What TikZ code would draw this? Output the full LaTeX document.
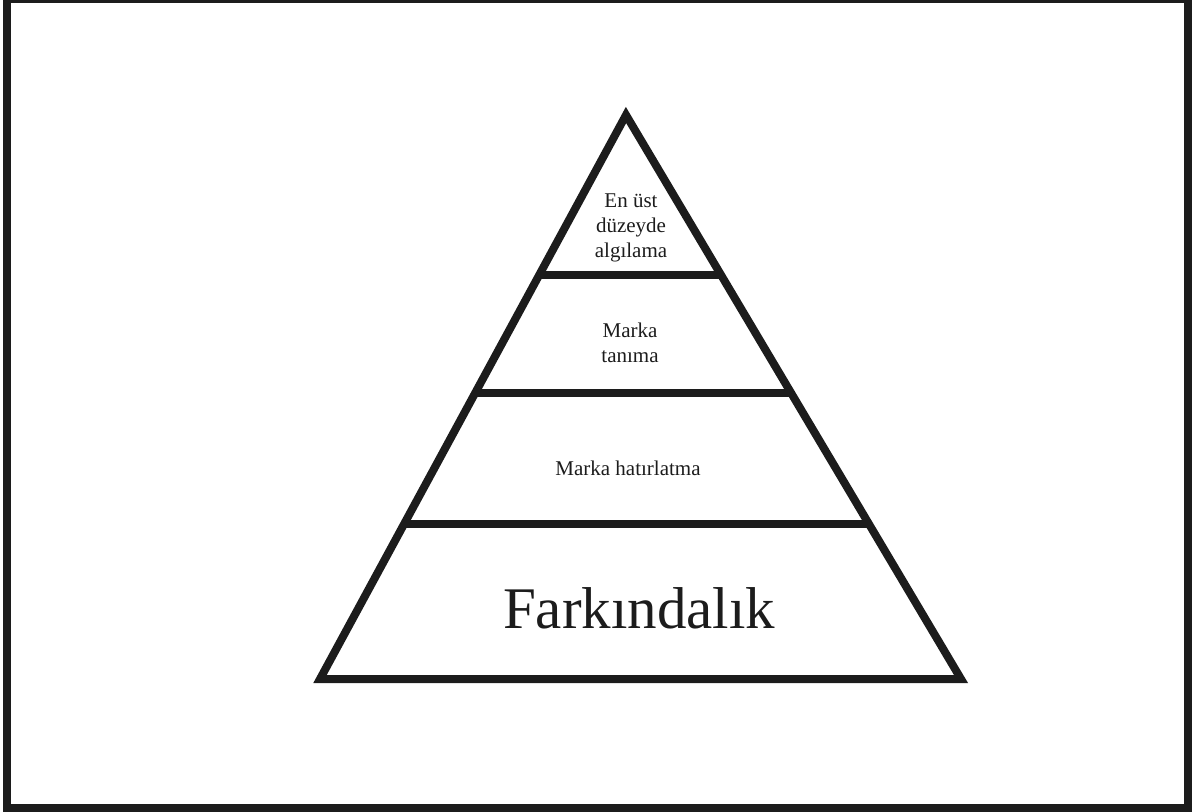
\documentclass[tikz,border=0pt]{standalone}
\usepackage{fontspec}
\setmainfont{Liberation Serif}
\usetikzlibrary{calc}
\definecolor{ink}{RGB}{28,28,28}
\tikzset{
  edge/.style={draw=ink, line width=4pt, line join=miter},
  frame/.style={draw=ink, line width=4pt},
  tiertext/.style={align=center, inner sep=0pt, text=ink,
    font=\fontsize{10.5}{12.6}\selectfont},
  basetext/.style={inner sep=0pt, text=ink,
    font=\fontsize{29.5}{34}\selectfont}
}
\begin{document}
\begin{tikzpicture}[x=0.5pt, y=-0.5pt]
  \useasboundingbox (0,0) rectangle (1192,812);
  % outer frame
  \draw[frame] (7,-1) rectangle (1188,808);

  % pyramid corners
  \coordinate (apex) at (626,115);
  \coordinate (bl) at (320,679);
  \coordinate (br) at (961,679);
  \draw[edge] (apex) -- (bl) -- (br) -- cycle;

  % tier dividers
  \coordinate (l1) at ($(apex)!0.2837!(bl)$);
  \coordinate (r1) at ($(apex)!0.2837!(br)$);
  \coordinate (l2) at ($(apex)!0.4929!(bl)$);
  \coordinate (r2) at ($(apex)!0.4929!(br)$);
  \coordinate (l3) at ($(apex)!0.7252!(bl)$);
  \coordinate (r3) at ($(apex)!0.7252!(br)$);
  \draw[edge] (l1) -- (r1);
  \draw[edge] (l2) -- (r2);
  \draw[edge] (l3) -- (r3);

  % tier labels
  \node[tiertext] (top) at (631,228) {En üst\\düzeyde\\algılama};
  \node[tiertext] (recog) at (630,343) {Marka\\tanıma};
  \node[tiertext, anchor=base] (recall) at (628,475) {Marka hatırlatma};
  \node[basetext, anchor=base] (aware) at (639,628) {Farkındalık};
\end{tikzpicture}
\end{document}
